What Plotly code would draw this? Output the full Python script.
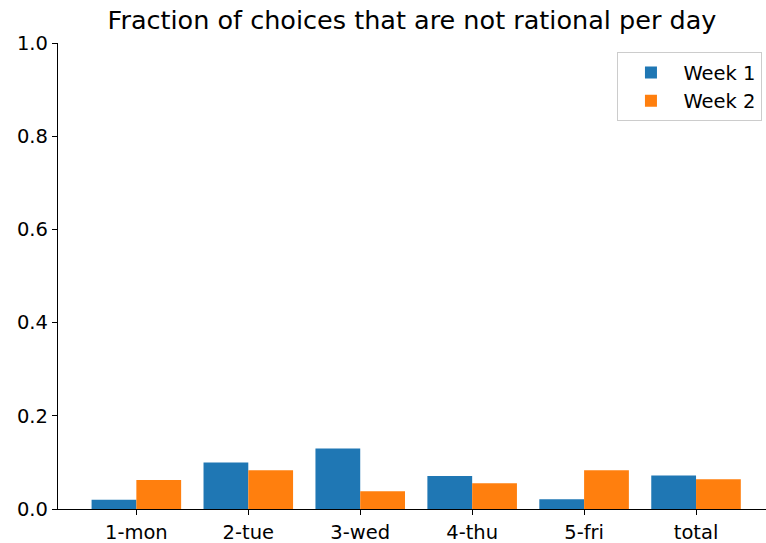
import plotly.graph_objects as go

days = ["1-mon", "2-tue", "3-wed", "4-thu", "5-fri", "total"]
week1 = [0.020, 0.100, 0.130, 0.071, 0.021, 0.072]
week2 = [0.062, 0.083, 0.038, 0.055, 0.083, 0.064]
y_ticks = [0.0, 0.2, 0.4, 0.6, 0.8, 1.0]

font = dict(family="DejaVu Sans", size=19.5, color="black")
xpos = list(range(len(days)))

fig = go.Figure()
fig.add_trace(go.Bar(x=xpos, y=week1, name="Week 1", marker_color="#1f77b4",
                     marker_line_width=0))
fig.add_trace(go.Bar(x=xpos, y=week2, name="Week 2", marker_color="#ff7f0e",
                     marker_line_width=0))

fig.update_layout(
    width=766, height=543,
    margin=dict(l=58, r=0, t=43, b=34),
    barmode="group", bargap=0.2, bargroupgap=0,
    plot_bgcolor="white", paper_bgcolor="white",
    font=font,
    title=dict(text="Fraction of choices that are not rational per day",
               x=0.5, xanchor="center", xref="paper", y=0.963, yanchor="middle",
               font=dict(family="DejaVu Sans", size=25.5, color="black")),
    legend=dict(x=0.995, y=0.98, xanchor="right", yanchor="top",
                bgcolor="white", bordercolor="#cccccc", borderwidth=1,
                font=dict(family="DejaVu Sans", size=19.5), tracegroupgap=8,
                itemsizing="constant", itemwidth=55),
)
fig.update_xaxes(range=[-0.70, 5.625], tickmode="array", tickvals=xpos, ticktext=days,
                 showline=True, linecolor="black", linewidth=1.3, ticks="outside",
                 ticklen=5, tickcolor="black", showgrid=False, zeroline=False)
fig.update_yaxes(range=[0, 1], tickmode="array", tickvals=y_ticks,
                 ticktext=[f"{v:.1f}" for v in y_ticks],
                 showline=True, linecolor="black", linewidth=1.3, ticks="outside",
                 ticklen=5, tickcolor="black", showgrid=False, zeroline=False)

fig.write_html("out.html")
